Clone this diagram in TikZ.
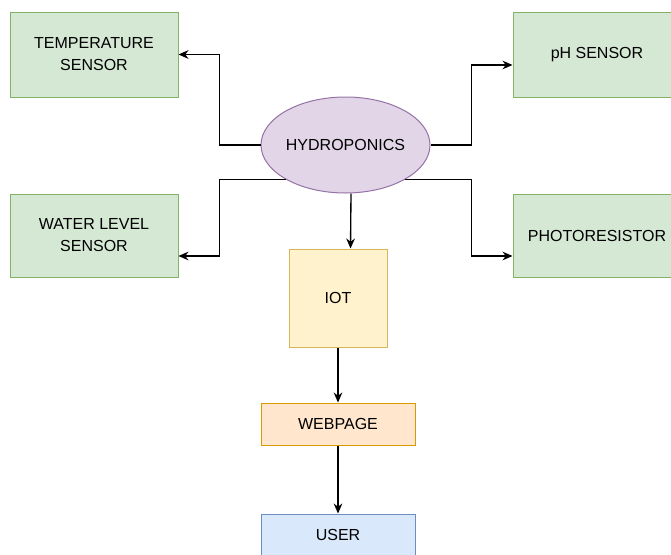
\documentclass[tikz,border=0pt]{standalone}
\usepackage{fontspec}
\setmainfont{Liberation Sans}
\usetikzlibrary{arrows.meta,shapes.geometric,calc}

\begin{document}
\begin{tikzpicture}[x=0.75pt,y=0.75pt,yscale=-1,xscale=1,
  box/.style={draw, line width=0.75pt, inner sep=2pt, align=center,
    font=\fontsize{12}{16.5}\selectfont},
  sensorbox/.style={box, draw={rgb, 255:red, 130; green, 179; blue, 102},
    fill={rgb, 255:red, 213; green, 232; blue, 212}, minimum width=126pt},
  arr/.style={draw=black, line width=1pt, -{Stealth[length=7.5pt,width=6.5pt]}}]
\useasboundingbox (0,0) rectangle (671,554);
\clip (0,0) rectangle (671,554);
%Shape: Rectangle
\node [sensorbox, minimum height=63.75pt] (temp) at (94,54.5) {TEMPERATURE\\SENSOR};
%Shape: Rectangle
\node [sensorbox, minimum height=63.75pt] (ph) at (597,54.5) {pH SENSOR};
%Shape: Rectangle
\node [sensorbox, minimum height=62.25pt] (water) at (94,235.5) {WATER LEVEL\\SENSOR};
%Shape: Rectangle
\node [sensorbox, minimum height=62.25pt] (photo) at (597,235.5) {PHOTORESISTOR};
%Shape: Ellipse
\node [box, ellipse, inner sep=0pt, draw={rgb, 255:red, 150; green, 115; blue, 166},
  fill={rgb, 255:red, 225; green, 213; blue, 231}, minimum width=126.75pt, minimum height=72pt] (hyd) at (345.5,145) {HYDROPONICS};
%Shape: Square
\node [box, draw={rgb, 255:red, 214; green, 182; blue, 86}, fill={rgb, 255:red, 255; green, 242; blue, 204},
  minimum width=73.5pt, minimum height=73.5pt] (iot) at (338,298) {IOT};
%Shape: Rectangle
\node [box, draw={rgb, 255:red, 215; green, 155; blue, 0}, fill={rgb, 255:red, 255; green, 230; blue, 204},
  minimum width=115.5pt, minimum height=31.5pt] (web) at (338,424) {WEBPAGE};
%Shape: Rectangle
\node [box, draw={rgb, 255:red, 108; green, 142; blue, 191}, fill={rgb, 255:red, 218; green, 232; blue, 252},
  minimum width=115.5pt, minimum height=31.5pt] (user) at (338,535) {USER};

%Connectors
\draw [arr] (hyd.west) -- ++(-41,0) |- (temp.east);
\draw [arr] (hyd.east) -- ++(41,0) |- ($(ph.west)+(0,10.5)$);
\draw [arr] (hyd.210) -- ++(-66,0) |- ($(water.east)+(0,20.5)$);
\draw [arr] (hyd.330) -- ++(66,0) |- ($(photo.west)+(0,20.5)$);
\draw [arr] ($(hyd.south)+(5.5,0)$) -- ($(iot.north)+(12.5,0)$);
\draw [arr] (iot) -- (web);
\draw [arr] (web) -- (user);

\end{tikzpicture}
\end{document}
